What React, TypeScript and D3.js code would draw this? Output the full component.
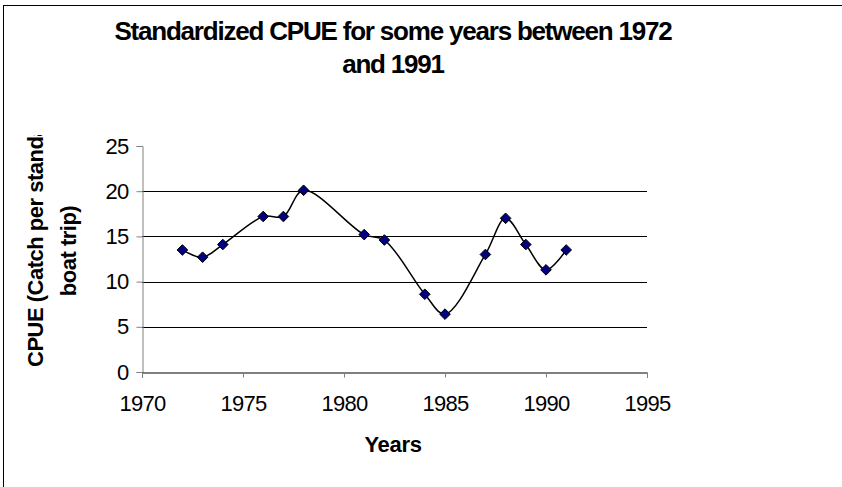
import React, { useEffect, useRef } from 'react'
import * as d3 from 'd3'

// data
const years = [1972, 1973, 1974, 1976, 1977, 1978, 1981, 1982, 1984, 1985, 1987, 1988, 1989, 1990, 1991]
const cpue = [13.5, 12.7, 14.1, 17.2, 17.2, 20.1, 15.2, 14.6, 8.6, 6.4, 13.0, 17.0, 14.1, 11.3, 13.5]
const xTicks = [1970, 1975, 1980, 1985, 1990, 1995]
const yTicks = [0, 5, 10, 15, 20, 25]
const gridValues = [5, 10, 15, 20]
const titleLines = ['Standardized CPUE for some years between 1972', 'and 1991']
const yLabelLines = ['CPUE (Catch per standard', 'boat trip)']
const xLabel = 'Years'

const W = 842
const H = 487
const font = '"Liberation Sans", Arial, sans-serif'

export default function App() {
  const ref = useRef<SVGSVGElement>(null)

  useEffect(() => {
    const svg = d3.select(ref.current)
    svg.selectAll('*').remove()

    const margin = { top: 146, left: 142, right: 195, bottom: 115 }
    const width = W - margin.left - margin.right
    const height = H - margin.top - margin.bottom

    // outer chart border (runs off the bottom/right of the picture)
    svg.append('rect')
      .attr('x', 3.5).attr('y', 5.5)
      .attr('width', W + 10).attr('height', H + 10)
      .attr('fill', 'white').attr('stroke', 'black').attr('stroke-width', 1)

    const x = d3.scaleLinear().domain([1970, 1995]).range([0, width])
    const y = d3.scaleLinear().domain([0, 25]).range([height, 0])

    const g = svg.append('g')
      .attr('transform', 'translate(' + margin.left + ',' + margin.top + ')')

    // gridlines
    g.selectAll('.grid')
      .data(gridValues)
      .enter()
      .append('line')
      .attr('x1', 0).attr('x2', width)
      .attr('y1', d => Math.round(y(d)) + 0.5).attr('y2', d => Math.round(y(d)) + 0.5)
      .attr('stroke', 'black').attr('stroke-width', 1)

    // y axis
    const yAxis = g.append('g')
      .attr('transform', 'translate(0.5,0)')
      .call(d3.axisLeft(y).tickValues(yTicks).tickSize(6).tickPadding(8))
    yAxis.select('.domain').attr('stroke', '#808080')
    yAxis.selectAll('.tick line').attr('stroke', '#808080')
    yAxis.selectAll('text')
      .attr('font-family', font).attr('font-size', 22).attr('letter-spacing', -0.7).attr('fill', 'black')

    // x axis
    const xAxis = g.append('g')
      .attr('transform', 'translate(0,' + (Math.round(height) + 0.5) + ')')
      .call(d3.axisBottom(x).tickValues(xTicks).tickFormat(d3.format('d')).tickSize(5).tickPadding(18))
    xAxis.select('.domain').attr('stroke', 'black')
    xAxis.selectAll('.tick line').attr('stroke', '#808080')
    xAxis.selectAll('text')
      .attr('font-family', font).attr('font-size', 22).attr('letter-spacing', -0.7).attr('fill', 'black')

    // smoothed line
    const points: [number, number][] = years.map((yr, i) => [yr, cpue[i]])
    const line = d3.line<[number, number]>()
      .x(d => x(d[0]))
      .y(d => y(d[1]))
      .curve(d3.curveCatmullRom.alpha(0.5))
    g.append('path')
      .datum(points)
      .attr('d', line)
      .attr('fill', 'none')
      .attr('stroke', 'black')
      .attr('stroke-width', 1.5)

    // diamond markers
    const diamond = d3.symbol().type(d3.symbolDiamond2).size(72)
    g.selectAll('.marker')
      .data(points)
      .enter()
      .append('path')
      .attr('transform', d => 'translate(' + x(d[0]) + ',' + y(d[1]) + ')')
      .attr('d', diamond)
      .attr('fill', '#000080')
      .attr('stroke', 'black')
      .attr('stroke-width', 1)

    // title
    svg.append('text')
      .attr('text-anchor', 'middle')
      .attr('font-family', font).attr('font-size', 26).attr('font-weight', 'bold')
      .attr('letter-spacing', -1.2)
      .selectAll('tspan')
      .data(titleLines)
      .enter()
      .append('tspan')
      .attr('x', 393)
      .attr('y', (d, i) => 40 + i * 33)
      .text(d => d)

    // x label
    svg.append('text')
      .attr('x', 393).attr('y', 452)
      .attr('text-anchor', 'middle')
      .attr('font-family', font).attr('font-size', 22).attr('font-weight', 'bold')
      .attr('letter-spacing', -0.3)
      .text(xLabel)

    // y label, clipped at the top like in the source
    const ylab = svg.append('g').attr('clip-path', 'url(#ylabclip)')
    svg.append('clipPath').attr('id', 'ylabclip')
      .append('rect').attr('x', 0).attr('y', 135).attr('width', 100).attr('height', 300)
    ylab.append('text')
      .attr('transform', 'translate(43,367) rotate(-90)')
      .attr('text-anchor', 'start')
      .attr('font-family', font).attr('font-size', 22).attr('font-weight', 'bold')
      .attr('letter-spacing', -0.5)
      .text(yLabelLines[0])
    ylab.append('text')
      .attr('transform', 'translate(76,251) rotate(-90)')
      .attr('text-anchor', 'middle')
      .attr('font-family', font).attr('font-size', 22).attr('font-weight', 'bold')
      .attr('letter-spacing', -0.5)
      .text(yLabelLines[1])
  }, [])

  return (
    <svg ref={ref} width={W} height={H}
      style={{ position: 'absolute', left: 0, top: 0, background: 'white' }} />
  )
}
